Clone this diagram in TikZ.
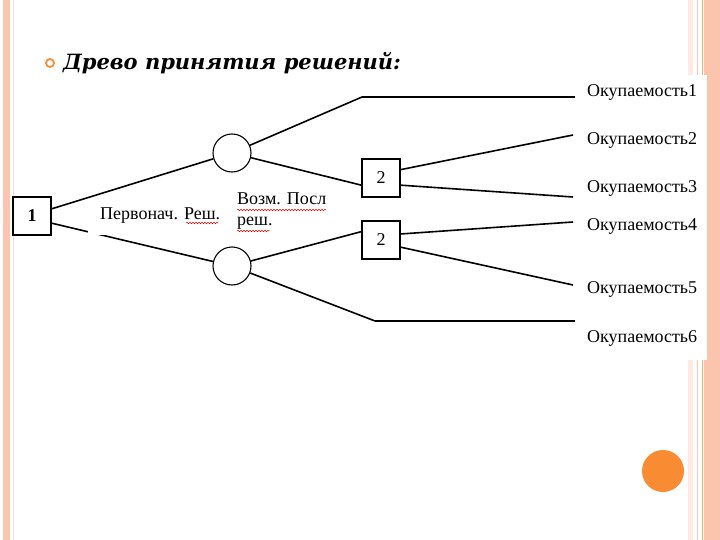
\documentclass[tikz,border=0pt]{standalone}
\usepackage{fontspec}
\setmainfont{Liberation Serif}
\newfontfamily\headfont{DejaVu Serif}
\usepackage{xcolor}
\usetikzlibrary{positioning, calc, decorations.pathmorphing}
\definecolor{slidepeach}{RGB}{251,196,172}
\definecolor{slideorange}{RGB}{249,139,51}

\begin{document}
\begin{tikzpicture}[x=1pt, y=-1pt,
    dbox/.style={draw, line width=1.4pt, minimum size=38pt, inner sep=0pt, font=\fontsize{18}{18}\selectfont},
    chance/.style={draw, circle, line width=1.1pt, minimum size=38pt, inner sep=0pt},
    branch/.style={line width=1.6pt},
    flatbranch/.style={line width=2.2pt},
    payoff/.style={anchor=west, inner sep=0pt, font=\fontsize{18}{18}\selectfont},
    note/.style={inner sep=0pt, font=\fontsize{18}{21}\selectfont, align=left},
    squiggle/.style={red!85!black, line width=0.5pt, decorate,
      decoration={snake, amplitude=0.7pt, segment length=3pt}}]
				  \fill[white] (0,0) rectangle (720,540);
				  \useasboundingbox (0,0) rectangle (720,540);
				  \fill[slidepeach] (3,0) rectangle (10,540);
				  \draw[slidepeach!60, line width=1pt] (13,0) -- (13,540);
				  \fill[slidepeach!35] (688,0) rectangle (693,540);
				  \draw[slidepeach, line width=0.8pt] (697,0) -- (697,540);
				  \draw[slideorange!70, line width=0.8pt] (702,0) -- (702,540);
				  \fill[slidepeach] (704,0) rectangle (720,540);
				  \fill[white] (578,75) rectangle (707,360);
				  \fill[slideorange] (663,471) circle (21pt);
				  \draw[slideorange, line width=1.8pt] (50,63) circle (4pt);
				  \node[anchor=base west, inner sep=0pt, font=\headfont\fontsize{21}{21}\selectfont\bfseries\itshape] (title) at (63,70) {Древо принятия решений:};
				  \node[dbox, font=\fontsize{18}{18}\selectfont\bfseries] (d1) at (32,216) {1};
				  \node[chance] (c1) at (232,153) {};
				  \node[chance] (c2) at (232,266) {};
				  \node[dbox] (d2a) at (381,178) {2};
				  \node[dbox] (d2b) at (381,240) {2};
				  \coordinate (k1) at (362,97);
				  \coordinate (k6) at (375,321);
				  \coordinate (e1) at (575,97);
				  \coordinate (e2) at (573,135);
				  \coordinate (e3) at (573,197);
				  \coordinate (e4) at (573,222);
				  \coordinate (e5) at (573,285);
				  \coordinate (e6) at (575,321);
				  \draw[branch] (d1.20) -- (c1);
				  \draw[branch] (d1.-20) -- (c2);
				  \draw[branch] (c1) -- (k1);
				  \draw[flatbranch] (k1) -- (e1);
				  \draw[branch] (c1) -- (d2a.200);
				  \draw[branch] (c2) -- (d2b.157);
				  \draw[branch] (c2) -- (k6);
				  \draw[flatbranch] (k6) -- (e6);
				  \draw[branch] (d2a.23) -- (e2);
				  \draw[branch] (d2a.-20) -- (e3);
				  \draw[branch] (d2b.17) -- (e4);
				  \draw[branch] (d2b.-20) -- (e5);
				  \node[note, anchor=south west, fill=white, text depth=15.5pt] (first) at (88,235.5) {\hspace{12pt}Первонач. Реш.\hspace{4pt}};
				  \node[note, anchor=north west] (second) at (237,193) {Возм. Посл\\реш.};
				  \node[payoff] (ok1) at (587,92) {Окупаемость1};
				  \node[payoff] (ok2) at (587,140) {Окупаемость2};
				  \node[payoff] (ok3) at (587,188) {Окупаемость3};
				  \node[payoff] (ok4) at (587,226) {Окупаемость4};
				  \node[payoff] (ok5) at (587,289) {Окупаемость5};
				  \node[payoff] (ok6) at (587,338) {Окупаемость6};
				  \draw[squiggle] (186,223) -- (218,223);
				  \draw[squiggle] (237,210) -- (326,210);
				  \draw[squiggle] (237,231) -- (270,231);
				\end{tikzpicture}
\end{document}
